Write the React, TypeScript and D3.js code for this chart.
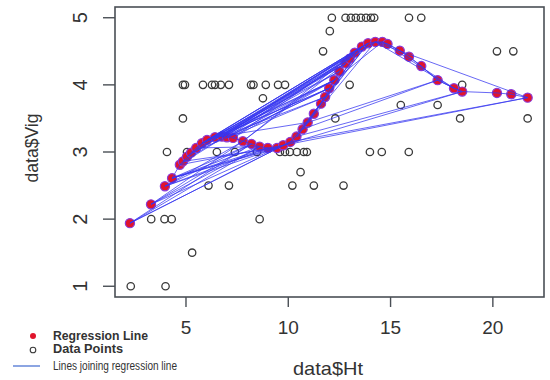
import React from "react";
import * as d3 from "d3";

// Observed data points (Ht, Vig)
const dataHt = [
  12.13, 12.8, 13.06, 13.3, 13.55, 13.8, 14.04, 14.2, 15.9, 16.5,
  12.03,
  11.7, 20.2, 21.0,
  4.85, 4.95, 5.83, 6.27, 6.42, 6.7, 7.1, 8.18, 8.3, 8.9, 9.5, 9.84, 13.0, 18.5,
  8.76,
  15.5, 17.3,
  4.85, 12.3, 18.4, 21.7,
  4.07, 5.05, 6.51, 7.39, 8.47, 9.59, 9.84, 10.08, 10.42, 10.76, 10.91, 13.99, 14.57, 15.89,
  10.6,
  6.1, 7.1, 10.2, 11.25, 12.7,
  3.3, 3.95, 4.3, 8.6,
  5.3,
  2.3, 4.0,
];
const dataVig = [
  5, 5, 5, 5, 5, 5, 5, 5, 5, 5,
  4.8,
  4.5, 4.5, 4.5,
  4, 4, 4, 4, 4, 4, 4, 4, 4, 4, 4, 4, 4, 4,
  3.8,
  3.7, 3.7,
  3.5, 3.5, 3.5, 3.5,
  3, 3, 3, 3, 3, 3, 3, 3, 3, 3, 3, 3, 3, 3,
  2.7,
  2.5, 2.5, 2.5, 2.5, 2.5,
  2, 2, 2, 2,
  1.5,
  1, 1,
];

// Fitted regression values (Ht, fitted Vig)
const fitHt = [
  2.26, 3.29, 3.97, 4.32, 4.7, 4.85, 5.05, 5.25, 5.5, 5.78,
  6.03, 6.42, 6.76, 7.0, 7.3, 7.78, 8.2, 8.6, 9.0, 9.45,
  9.75, 10.1, 10.4, 10.7, 10.95, 11.25, 11.6, 11.8, 12.0, 12.25,
  12.5, 12.8, 13.0, 13.25, 13.6, 13.9, 14.25, 14.6, 14.85, 15.45,
  15.9, 16.5, 17.3, 18.1, 18.5, 20.2, 20.9, 21.7,
];
const fitVig = [
  1.94, 2.22, 2.49, 2.61, 2.81, 2.86, 2.93, 2.99, 3.06, 3.13,
  3.18, 3.22, 3.23, 3.22, 3.21, 3.16, 3.12, 3.08, 3.06, 3.06,
  3.1, 3.15, 3.23, 3.34, 3.44, 3.57, 3.72, 3.82, 3.95, 4.07,
  4.2, 4.32, 4.39, 4.48, 4.57, 4.62, 4.64, 4.64, 4.61, 4.51,
  4.42, 4.28, 4.07, 3.95, 3.9, 3.88, 3.86, 3.81,
];

// Order in which fitted values are joined (data row order)
const joinOrder = [
  10, 30, 12, 34, 9, 28, 13, 36, 47, 20, 44, 22, 35, 21, 0, 17, 1, 19, 2, 16,
  3, 4, 5, 6, 7, 8, 9, 10, 11, 12, 13, 14, 15, 16, 17, 18, 19, 20, 21, 22,
  23, 24, 25, 26, 27, 28, 29, 30, 31, 32, 33, 34, 35, 36, 37, 38, 39, 40, 41, 42,
  24, 11, 29, 14, 35, 6, 33, 15, 31, 7, 27, 12, 36, 43, 44, 45, 46, 47, 21, 0,
  16, 1, 15, 2, 18, 3, 17, 8, 32, 4, 20, 3, 19, 5, 31, 9, 34, 10, 29, 12,
  33, 11, 28, 13, 29, 37, 43, 42, 23, 34, 22, 36, 38, 39, 40, 41, 42, 43, 44,
];

const xTicks = [5, 10, 15, 20];
const yTicks = [1, 2, 3, 4, 5];
const xDomain = [1.53, 22.5];
const yDomain = [0.84, 5.16];

const legendItems = ["Regression Line", "Data Points", "Lines joining regression line"];

export default function App() {
  const left = 115, right = 544, top = 7, bottom = 297;
  const x = d3.scaleLinear().domain(xDomain).range([left, right]);
  const y = d3.scaleLinear().domain(yDomain).range([bottom, top]);

  const pts = joinOrder.map((i) => [fitHt[i], fitVig[i]] as [number, number]);
  const line = d3.line<[number, number]>().x((d) => x(d[0])).y((d) => y(d[1]));
  const segs = pts.slice(1).map((p, i) => [pts[i], p] as [number, number][]);

  const axisColor = "#4a4f55";
  const textColor = "#333";
  const font = "'Liberation Sans', Arial, sans-serif";

  return (
    <svg
      width={550}
      height={380}
      style={{ position: "absolute", left: 0, top: 0, background: "#fff" }}
      fontFamily={font}
    >
      <rect x={0} y={0} width={550} height={380} fill="#fff" />
      {/* data points */}
      {dataHt.map((h, i) => (
        <circle
          key={"d" + i}
          cx={x(h)}
          cy={y(dataVig[i])}
          r={3.7}
          fill="none"
          stroke="#3a3a3a"
          strokeWidth={1.3}
        />
      ))}
      {/* regression points */}
      {fitHt.map((h, i) => (
        <circle
          key={"f" + i}
          cx={x(h)}
          cy={y(fitVig[i])}
          r={4.6}
          fill="#e0142c"
          stroke="#8a3ad8"
          strokeWidth={1.2}
        />
      ))}
      {/* joining lines */}
      {segs.map((s, i) => (
        <path
          key={"s" + i}
          d={line(s) || ""}
          fill="none"
          stroke="#3535f0"
          strokeOpacity={0.75}
          strokeWidth={1}
        />
      ))}
      {/* frame */}
      <rect
        x={left}
        y={top}
        width={right - left}
        height={bottom - top}
        fill="none"
        stroke={axisColor}
        strokeWidth={1.6}
      />
      {/* x axis */}
      {xTicks.map((t) => (
        <g key={"xt" + t}>
          <line x1={x(t)} x2={x(t)} y1={bottom} y2={bottom + 10} stroke={axisColor} strokeWidth={1.4} />
          <text x={x(t)} y={334} textAnchor="middle" fontSize={19} fill={textColor}>
            {t}
          </text>
        </g>
      ))}
      {/* y axis */}
      {yTicks.map((t) => (
        <g key={"yt" + t}>
          <line x1={left - 12} x2={left} y1={y(t)} y2={y(t)} stroke={axisColor} strokeWidth={1.4} />
          <text
            transform={`translate(87,${y(t)}) rotate(-90)`}
            textAnchor="middle"
            fontSize={20}
            fill={textColor}
          >
            {t}
          </text>
        </g>
      ))}
      <text x={328} y={375} textAnchor="middle" fontSize={19} fill={textColor} textLength={70} lengthAdjust="spacingAndGlyphs">
        data$Ht
      </text>
      <text
        transform="translate(38,148) rotate(-90)"
        textAnchor="middle"
        fontSize={19}
        fill={textColor}
        textLength={69}
        lengthAdjust="spacingAndGlyphs"
      >
        data$Vig
      </text>
      {/* legend */}
      <circle cx={33} cy={336} r={3} fill="#e0142c" />
      <text x={53} y={340} fontSize={12} fontWeight="bold" fill={textColor} textLength={95} lengthAdjust="spacingAndGlyphs">
        {legendItems[0]}
      </text>
      <circle cx={33} cy={350} r={2.8} fill="none" stroke="#3a3a3a" strokeWidth={1.1} />
      <text x={53} y={353} fontSize={12} fontWeight="bold" fill={textColor} textLength={70} lengthAdjust="spacingAndGlyphs">
        {legendItems[1]}
      </text>
      <line x1={13} x2={40} y1={366} y2={366} stroke="#5b7fd6" strokeWidth={1.4} />
      <text x={53} y={370} fontSize={12} fill={textColor} textLength={124} lengthAdjust="spacingAndGlyphs">
        {legendItems[2]}
      </text>
    </svg>
  );
}
